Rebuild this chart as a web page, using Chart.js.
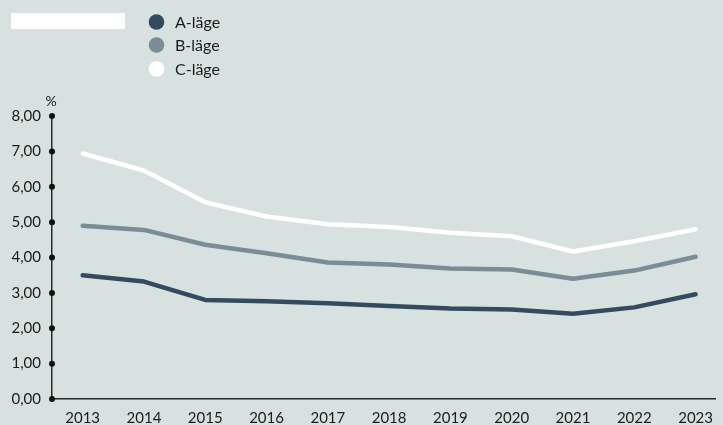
<!DOCTYPE html>
<html>
<head>
<meta charset="utf-8">
<script src="https://cdn.jsdelivr.net/npm/chart.js@4/dist/chart.umd.min.js"></script>
<style>
  html, body { margin: 0; padding: 0; background: #d7e1df; }
  #wrap { width: 723px; height: 425px; position: relative; }
</style>
</head>
<body>
<div id="wrap"><canvas id="c" width="723" height="425"></canvas></div>
<script>
// Years on the x axis
const years = [2013, 2014, 2015, 2016, 2017, 2018, 2019, 2020, 2021, 2022, 2023];
// Series values (%)
const aLage = [3.50, 3.32, 2.80, 2.76, 2.71, 2.63, 2.56, 2.53, 2.41, 2.59, 2.96];
const bLage = [4.90, 4.78, 4.36, 4.12, 3.86, 3.80, 3.69, 3.66, 3.40, 3.63, 4.02];
const cLage = [6.94, 6.46, 5.56, 5.16, 4.94, 4.86, 4.70, 4.60, 4.17, 4.46, 4.80];
const seriesNames = ['A-läge', 'B-läge', 'C-läge'];
const yTicks = [0, 1, 2, 3, 4, 5, 6, 7, 8];

const colors = ['#344b5f', '#7b8c94', '#ffffff'];
const bg = '#d7e1df';
const axisColor = '#2a2a2a';
const textColor = '#1c1c1c';
const font = 'Lato, "Open Sans", sans-serif';

const toPoints = vals => vals.map((v, i) => ({ x: years[i], y: v }));

const decor = {
  id: 'decor',
  beforeDraw(chart) {
    const ctx = chart.ctx;
    ctx.save();
    ctx.fillStyle = bg;
    ctx.fillRect(0, 0, chart.width, chart.height);
    ctx.restore();
  },
  afterDraw(chart) {
    const ctx = chart.ctx;
    const area = chart.chartArea;
    const y = chart.scales.y;
    ctx.save();
    // tick dots on the value axis
    ctx.fillStyle = '#111';
    yTicks.forEach(v => {
      ctx.beginPath();
      ctx.arc(area.left, y.getPixelForValue(v), 3, 0, Math.PI * 2);
      ctx.fill();
    });
    // unit label
    ctx.fillStyle = textColor;
    ctx.font = '14px ' + font;
    ctx.textAlign = 'center';
    ctx.textBaseline = 'alphabetic';
    ctx.fillText('%', area.left - 1, 106);
    // legend: blank title box and series markers
    ctx.fillStyle = '#ffffff';
    ctx.fillRect(11, 13, 114, 16);
    const ly = [22, 45, 69];
    seriesNames.forEach((name, i) => {
      ctx.beginPath();
      ctx.arc(156.5, ly[i], 7.8, 0, Math.PI * 2);
      ctx.fillStyle = colors[i];
      ctx.fill();
      ctx.fillStyle = textColor;
      ctx.font = '16px ' + font;
      ctx.textAlign = 'left';
      ctx.textBaseline = 'middle';
      ctx.fillText(name, 175, ly[i] + 1);
    });
    ctx.restore();
  }
};

const mk = (label, vals, color) => ({
  label,
  data: toPoints(vals),
  borderColor: color,
  backgroundColor: color,
  borderWidth: 4.5,
  pointRadius: 0,
  tension: 0,
  borderCapStyle: 'round',
  borderJoinStyle: 'round',
  clip: false
});

new Chart(document.getElementById('c'), {
  type: 'line',
  data: {
    datasets: [
      mk(seriesNames[0], aLage, colors[0]),
      mk(seriesNames[1], bLage, colors[1]),
      mk(seriesNames[2], cLage, colors[2])
    ]
  },
  options: {
    responsive: false,
    animation: false,
    layout: { autoPadding: false, padding: { top: 116, left: 0, right: 0, bottom: 0 } },
    plugins: { legend: { display: false }, tooltip: { enabled: false } },
    scales: {
      x: {
        type: 'linear',
        min: 2012.5,
        max: 2023.32,
        grid: { display: false, drawTicks: false },
        border: { display: true, color: axisColor, width: 1.5 },
        afterBuildTicks(scale) { scale.ticks = years.map(v => ({ value: v })); },
        afterFit(scale) { scale.height = 26; },
        ticks: {
          autoSkip: false,
          maxRotation: 0,
          padding: 10,
          color: textColor,
          font: { family: font, size: 15 },
          callback: v => String(v)
        }
      },
      y: {
        min: 0,
        max: 8,
        grid: { display: false, drawTicks: false },
        border: { display: true, color: axisColor, width: 1.5 },
        afterBuildTicks(scale) { scale.ticks = yTicks.map(v => ({ value: v })); },
        afterFit(scale) { scale.width = 52; },
        ticks: {
          padding: 11,
          color: textColor,
          font: { family: font, size: 15 },
          callback: v => v.toFixed(2).replace('.', ',')
        }
      }
    }
  },
  plugins: [decor]
});
</script>
</body>
</html>
